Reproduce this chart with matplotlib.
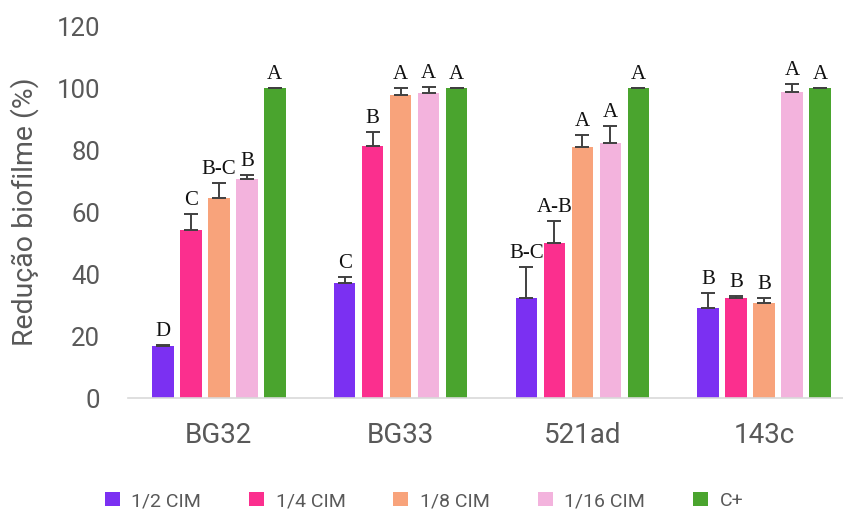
import numpy as np
import matplotlib
matplotlib.use('Agg')
import matplotlib.pyplot as plt
from matplotlib.patches import Patch

# Data
strains = ['BG32', 'BG33', '521ad', '143c']
series = ['1/2 CIM', '1/4 CIM', '1/8 CIM', '1/16 CIM', 'C+']
colors = ['#7b30f2', '#fb2f8e', '#f8a37b', '#f3b3dd', '#4aa42e']

values = np.array([
    [16.9, 54.2, 64.6, 70.5, 100.0],   # BG32
    [37.0, 81.3, 97.7, 98.3, 100.0],   # BG33
    [32.2, 50.1, 81.1, 82.2, 100.0],   # 521ad
    [28.9, 32.2, 30.7, 98.8, 100.0],   # 143c
])
errors = np.array([
    [0.3, 5.2, 4.9, 1.5, 0.0],
    [2.1, 4.6, 2.2, 1.9, 0.0],
    [10.0, 7.0, 3.7, 5.5, 0.0],
    [5.1, 0.7, 1.5, 2.5, 0.0],
])
letters = [
    ['D', 'C', 'B-C', 'B', 'A'],
    ['C', 'B', 'A', 'A', 'A'],
    ['B-C', 'A-B', 'A', 'A', 'A'],
    ['B', 'B', 'B', 'A', 'A'],
]

plt.rcParams['font.family'] = ['Roboto', 'DejaVu Sans']

fig = plt.figure(figsize=(8.43, 5.15), dpi=100)
ax = fig.add_axes([128 / 843, 117 / 515, 715 / 843, 372 / 515])

x = np.arange(len(strains))
step = 0.154
width = 0.118
for j, name in enumerate(series):
    xs = x + (j - 2) * step
    ax.bar(xs, values[:, j], width, color=colors[j], label=name, zorder=2)
    ax.errorbar(xs, values[:, j], yerr=[np.zeros(len(strains)), errors[:, j]],
                fmt='none', ecolor='#404040', elinewidth=1.4, capsize=5,
                capthick=1.4, zorder=3)
    for i in range(len(strains)):
        ax.text(xs[i], values[i, j] + errors[i, j] + 1.3, letters[i][j],
                ha='center', va='bottom', fontsize=15,
                family='Liberation Serif', color='#111111', zorder=4)

ax.set_xlim(-0.5, 3.435)
ax.set_ylim(0, 120)
ax.set_yticks(np.arange(0, 121, 20))
ax.set_xticks(x)
ax.set_xticklabels(strains, fontsize=20)
ax.tick_params(axis='both', length=0, labelcolor='#595959')
ax.tick_params(axis='y', pad=20, labelsize=18.5)
ax.tick_params(axis='x', pad=17)

for side in ['top', 'right', 'left']:
    ax.spines[side].set_visible(False)
ax.spines['bottom'].set_color('#d9d9d9')
ax.spines['bottom'].set_linewidth(1.2)

ax.set_ylabel('Redução biofilme (%)', fontsize=20.5, color='#595959')
ax.yaxis.set_label_coords(-0.125, 0.5)

handles = [Patch(facecolor=c, edgecolor='none') for c in colors]
fig.legend(handles, series, loc='center', bbox_to_anchor=(424 / 843, 1 - 501 / 515),
           ncol=5, frameon=False, fontsize=14, handlelength=0.77, handleheight=0.77,
           handletextpad=0.6, columnspacing=2.46, labelcolor='#595959')

fig.savefig('out.png', dpi=100)
